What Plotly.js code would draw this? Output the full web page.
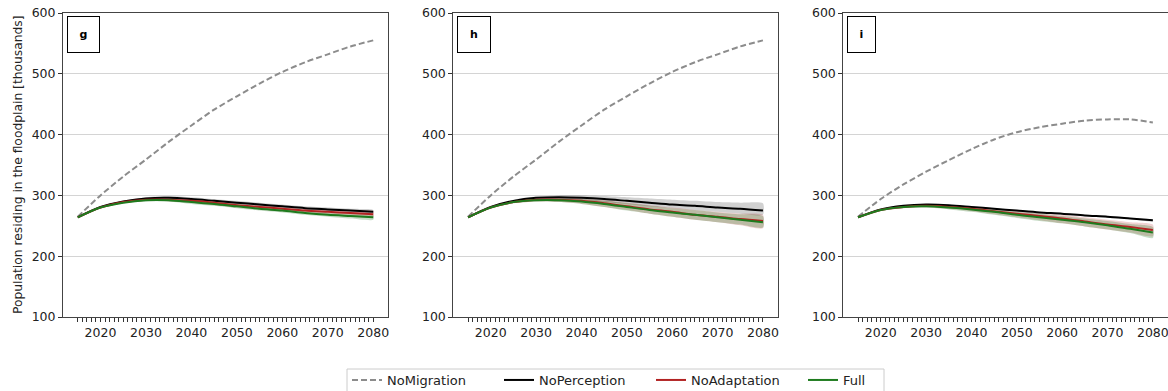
<!DOCTYPE html>
<html><head><meta charset="utf-8">
<script src="https://cdn.plot.ly/plotly-3.0.1.min.js"></script>
<style>html,body{margin:0;padding:0;background:#fff}#chart{width:1168px;height:391px}</style>
</head><body><div id="chart"></div>
<script>
// ---- data (thousands of people) ----
const years = [2015,2020,2025,2030,2035,2040,2045,2050,2055,2060,2065,2070,2075,2080];
const seriesNames = ['NoMigration','NoPerception','NoAdaptation','Full'];
const panelLabels = ['g','h','i'];
const yTicks = [100,200,300,400,500,600];
const xLabelYears = [2020,2030,2040,2050,2060,2070,2080];

// panel g
const gNoMigration  = [265,300,331,359,388,415,441,463,484,503,519,532,545,555];
const gNoPerception = [264,281,290,295,296,294,291,288,285,282,279,277,275,273];
const gNoPerceptionLo = [264,280,289,293,293,291,288,285,282,279,276,274,272,270];
const gNoPerceptionHi = [264,282,291,297,299,297,294,291,288,285,282,280,278,276];
const gNoAdaptation = [264,280,289,293,293,291,288,284,281,278,275,273,271,269];
const gNoAdaptationLo = [264,279,287,291,290,288,284,280,277,274,271,268,266,264];
const gNoAdaptationHi = [264,281,291,296,296,294,292,288,285,282,279,277,275,274];
const gFull = [264,280,288,292,292,289,286,282,278,275,271,268,266,264];
const gFullLo = [264,279,287,290,290,286,283,279,275,272,268,265,262,260];
const gFullHi = [264,281,290,294,294,292,289,286,282,279,275,272,270,268];

// panel h
const hNoMigration  = [265,300,331,359,388,415,441,463,484,503,519,532,545,555];
const hNoPerception = [264,281,291,296,297,296,294,291,288,285,283,280,278,275];
const hNoPerceptionLo = [264,280,289,294,294,292,289,286,282,279,276,273,270,268];
const hNoPerceptionHi = [264,282,293,298,300,300,299,297,295,293,291,289,288,287];
const hNoAdaptation = [264,280,289,293,293,291,287,282,277,273,268,265,261,258];
const hNoAdaptationLo = [264,279,287,290,289,286,281,276,270,265,260,256,251,246];
const hNoAdaptationHi = [264,281,291,295,296,295,292,288,284,280,276,273,270,268];
const hFull = [264,280,289,292,292,290,286,281,276,272,268,264,260,256];
const hFullLo = [264,279,287,290,289,286,281,275,270,265,260,256,252,247];
const hFullHi = [264,281,290,294,295,294,291,287,283,279,276,272,269,266];

// panel i
const iNoMigration  = [265,294,318,339,358,376,392,404,412,418,423,425,425,420];
const iNoPerception = [264,277,283,285,284,281,278,275,272,270,267,265,262,259];
const iNoPerceptionLo = [264,276,282,284,283,280,277,274,271,268,266,263,261,257];
const iNoPerceptionHi = [264,278,284,286,285,282,279,276,273,271,268,266,263,260];
const iNoAdaptation = [264,276,281,283,281,278,274,270,266,262,257,252,248,243];
const iNoAdaptationLo = [264,275,279,280,278,274,269,264,259,254,249,244,239,233];
const iNoAdaptationHi = [264,277,283,285,284,281,278,275,271,268,264,260,256,252];
const iFull = [264,276,281,282,280,277,273,268,264,260,256,251,245,239];
const iFullLo = [264,275,279,280,277,273,268,263,258,254,249,244,238,230];
const iFullHi = [264,277,283,284,283,280,277,273,270,266,262,258,253,248];

// ---- styling ----
const W = 1168, H = 391;
const FONT = 'DejaVu Sans, sans-serif';
const lineColors = {NoMigration:'#8c8c8c', NoPerception:'#000000', NoAdaptation:'#b22222', Full:'#1e7b1e'};
const bandColors = {NoPerception:'rgba(0,0,0,0.18)', NoAdaptation:'rgba(178,34,34,0.2)', Full:'rgba(0,100,0,0.22)'};

const panels = [
  {label:'g', dom:[63,388], boxW:31, mig:gNoMigration,
   mean:{NoPerception:gNoPerception,NoAdaptation:gNoAdaptation,Full:gFull},
   lo:{NoPerception:gNoPerceptionLo,NoAdaptation:gNoAdaptationLo,Full:gFullLo},
   hi:{NoPerception:gNoPerceptionHi,NoAdaptation:gNoAdaptationHi,Full:gFullHi}},
  {label:'h', dom:[453.3,777.7], boxW:32, mig:hNoMigration,
   mean:{NoPerception:hNoPerception,NoAdaptation:hNoAdaptation,Full:hFull},
   lo:{NoPerception:hNoPerceptionLo,NoAdaptation:hNoAdaptationLo,Full:hFullLo},
   hi:{NoPerception:hNoPerceptionHi,NoAdaptation:hNoAdaptationHi,Full:hFullHi}},
  {label:'i', dom:[843.3,1167.6], boxW:27, mig:iNoMigration,
   mean:{NoPerception:iNoPerception,NoAdaptation:iNoAdaptation,Full:iFull},
   lo:{NoPerception:iNoPerceptionLo,NoAdaptation:iNoAdaptationLo,Full:iFullLo},
   hi:{NoPerception:iNoPerceptionHi,NoAdaptation:iNoAdaptationHi,Full:iFullHi}}
];

const tickYears = [];
for (let y = years[0]; y <= years[years.length-1]; y++) tickYears.push(y);
const tickText = tickYears.map(y => xLabelYears.includes(y) ? String(y) : '');

const traces = [];
const layout = {
  width: W, height: H,
  margin: {l:0, r:0, t:0, b:0, autoexpand:false},
  paper_bgcolor: '#fff', plot_bgcolor: '#fff',
  font: {family: FONT, color: '#222'},
  showlegend: true,
  legend: {orientation:'h', xref:'container', yref:'container',
           x: 347/W, y: 1-365/H, xanchor:'left', yanchor:'top',
           borderwidth:0, bgcolor:'rgba(0,0,0,0)',
           font:{family:FONT, size:13, color:'#222'},
           entrywidth: 107, entrywidthmode:'pixels', traceorder:'normal'},
  annotations: [],
  shapes: [{type:'rect', xref:'paper', yref:'paper', x0:347/W, x1:884/W, y0:1-369/H, y1:-0.05,
            line:{color:'#cccccc', width:1}, fillcolor:'rgba(255,255,255,0)', layer:'below'}]
};

const yDom = [1-317/H, 1-13/H];

panels.forEach((p, k) => {
  const sfx = k === 0 ? '' : String(k+1);
  const xa = 'x'+sfx, ya = 'y'+sfx;
  ['NoPerception','NoAdaptation','Full'].forEach(s => {
    traces.push({
      type:'scatter', mode:'lines', xaxis:xa, yaxis:ya,
      x: years.concat(years.slice().reverse()),
      y: p.hi[s].concat(p.lo[s].slice().reverse()),
      fill:'toself', fillcolor: bandColors[s],
      line:{width:0, shape:'spline', smoothing:0.6}, hoverinfo:'skip', showlegend:false
    });
  });
  traces.push({
    type:'scatter', mode:'lines', xaxis:xa, yaxis:ya, name:'NoMigration',
    x: years, y: p.mig, legendgroup:'NoMigration', showlegend: k===0,
    line:{color: lineColors.NoMigration, width:2, dash:'6px,3px', shape:'spline', smoothing:0.8}
  });
  ['NoPerception','NoAdaptation','Full'].forEach(s => {
    traces.push({
      type:'scatter', mode:'lines', xaxis:xa, yaxis:ya, name:s,
      x: years, y: p.mean[s], legendgroup:s, showlegend: k===0,
      line:{color: lineColors[s], width:2, shape:'spline', smoothing:0.8}
    });
  });

  layout['xaxis'+sfx] = {
    domain:[p.dom[0]/W, p.dom[1]/W], anchor: ya, range:[2011.75, 2083.25],
    tickmode:'array', tickvals: tickYears, ticktext: tickText,
    ticks:'outside', ticklen:3.5, tickwidth:1, tickcolor:'#333',
    showline:true, linecolor:'#444', linewidth:1, mirror:true,
    showgrid:false, zeroline:false, automargin:false, ticklabeloverflow:'allow',
    tickfont:{family:FONT, size:12.5, color:'#222'}
  };
  layout['yaxis'+sfx] = {
    domain: yDom, anchor: xa, range:[100,600],
    tickmode:'array', tickvals: yTicks,
    ticks:'outside', ticklen:4, tickwidth:1, tickcolor:'#333',
    showline:true, linecolor:'#444', linewidth:1, mirror:true,
    showgrid:true, gridcolor:'#d4d4d4', gridwidth:1, zeroline:false, automargin:false,
    tickfont:{family:FONT, size:12.5, color:'#222'}
  };
  layout.annotations.push({
    xref:'paper', yref:'paper', x:(p.dom[0]+4+(p.boxW+2)/2)/W, y:1-35/H,
    xanchor:'center', yanchor:'middle', showarrow:false,
    text:'<b>'+panelLabels[k]+'</b>', font:{family:FONT, size:11, color:'#000'},
    bordercolor:'#000', borderwidth:1, borderpad:0, bgcolor:'#fff',
    width:p.boxW, height:35
  });
});

layout.annotations.push({
  xref:'paper', yref:'paper', x:18/W, y:1-165/H, xanchor:'center', yanchor:'middle',
  showarrow:false, textangle:-90,
  text:'Population residing in the floodplain [thousands]',
  font:{family:FONT, size:12.3, color:'#222'}
});

Plotly.newPlot('chart', traces, layout, {staticPlot:true, displayModeBar:false});
</script></body></html>
